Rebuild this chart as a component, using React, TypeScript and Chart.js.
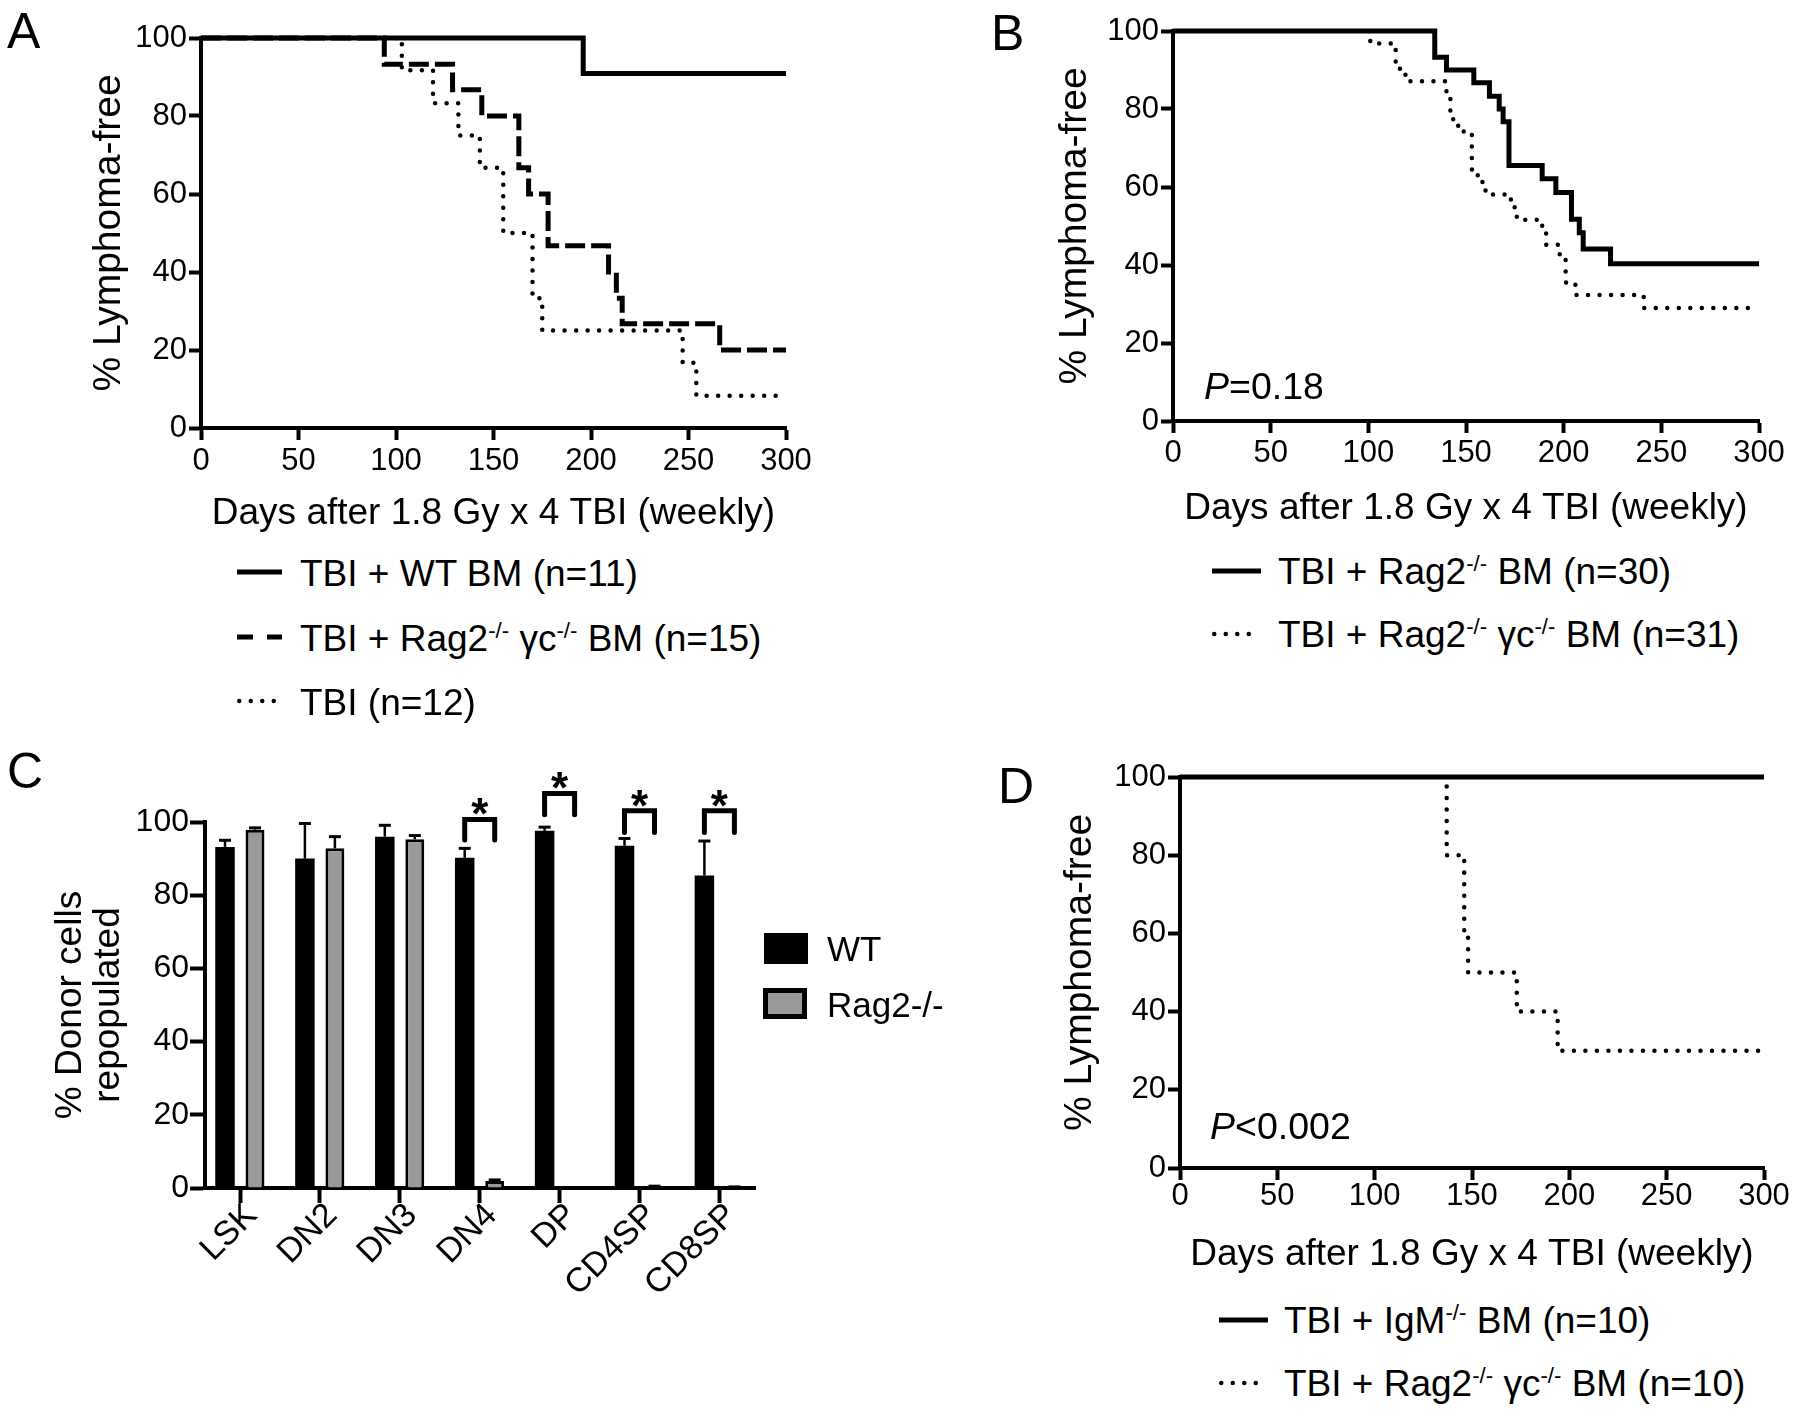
import React, { useEffect, useRef } from "react";
import { Chart, registerables } from "chart.js";

Chart.register(...registerables);

const FONT = "'Liberation Sans', Arial, Helvetica, sans-serif";

// ---------- shared axis data ----------
const X_TICKS = [0, 50, 100, 150, 200, 250, 300];
const Y_TICKS = [0, 20, 40, 60, 80, 100];
const X_TITLE = "Days after 1.8 Gy x 4 TBI (weekly)";
const Y_TITLE = "% Lymphoma-free";

// ---------- panel A ----------
const A_WT_DAYS = [0, 196, 300];
const A_WT_PCT = [100, 90.9, 90.9];
const A_RAGGC_DAYS = [0, 94, 129, 144, 163, 168, 178, 209, 213, 216, 266, 300];
const A_RAGGC_PCT = [100, 93.3, 86.7, 80, 66.7, 60, 46.7, 40, 33.3, 26.7, 20, 20];
const A_TBI_DAYS = [0, 103, 119, 132, 143, 155, 170, 175, 247, 254, 300];
const A_TBI_PCT = [100, 91.7, 83.3, 75, 66.7, 50, 33.3, 25, 16.7, 8.3, 8.3];

// ---------- panel B ----------
const B_RAG_DAYS = [0, 134, 140, 154, 162, 167, 169, 172, 189, 196, 204, 208, 210, 224, 300];
const B_RAG_PCT = [100, 93.3, 90, 86.7, 83.3, 80, 76.7, 65.5, 62.1, 58.6, 51.7, 48.3, 44.1, 40.3, 40.3];
const B_RAGGC_DAYS = [0, 101, 114, 119, 140, 142, 146, 153, 156, 160, 173, 176, 189, 191, 198, 201, 206, 241, 300];
const B_RAGGC_PCT = [100, 96.8, 90.3, 87.1, 83.9, 77.4, 74.2, 64.5, 61.3, 58.1, 54.8, 51.6, 48.4, 45.2, 41.9, 35.5, 32.3, 29.0, 29.0];

// ---------- panel C ----------
const C_CATS = ["LSK", "DN2", "DN3", "DN4", "DP", "CD4SP", "CD8SP"];
const C_WT = [93.2, 90, 96, 90.2, 97.6, 93.5, 85.4];
const C_WT_ERR = [1.8, 9.6, 3.1, 2.6, 1.0, 2.0, 9.4];
const C_RAG = [97.9, 92.8, 95.3, 1.9, 0, 0.4, 0.2];
const C_RAG_ERR = [0.5, 3.2, 1.0, 0.3, 0, 0.1, 0.1];
const C_Y_TICKS = [0, 20, 40, 60, 80, 100];
const C_SIG_CATS = [3, 4, 5, 6];
const C_SIG_TOP = [100.7, 107.8, 103.1, 103.1];
const C_SIG_LEG = [95.1, 102, 97.1, 97.1];

// ---------- panel D ----------
const D_IGM_DAYS = [0, 300];
const D_IGM_PCT = [100, 100];
const D_RAGGC_DAYS = [0, 137, 146, 148, 173, 194, 300];
const D_RAGGC_PCT = [100, 80, 60, 50, 40, 30, 30];

type Kind = "solid" | "dashed" | "dotted";
type Series = { days: number[]; pct: number[]; kind: Kind };
type Box = {
  cw: number; ch: number; L: number; R: number; T: number; B: number;
  tickMid: number; titleMid: number; yTitleX: number;
};

const TICK_FONT = 31;
const TITLE_FONT = 37;
const YTITLE_FONT = 39;
const TL = 12;

function lineStyle(kind: Kind) {
  if (kind === "dashed") return { borderWidth: 5, borderDash: [20, 6], borderCapStyle: "butt" };
  if (kind === "dotted") return { borderWidth: 4.5, borderDash: [0.01, 11.5], borderCapStyle: "round" };
  return { borderWidth: 5, borderDash: [], borderCapStyle: "butt" };
}

function axisCommon(tickLen: number) {
  return {
    grid: {
      display: true, drawOnChartArea: false, drawTicks: true, tickLength: tickLen,
      tickWidth: 4, tickColor: "#000", color: "#000", offset: false,
    },
    border: { display: true, color: "#000", width: 4 },
  };
}

function kmConfig(series: Series[], box: Box): any {
  const tickLH = TICK_FONT * 1.2;
  const titleLH = TITLE_FONT * 1.2;
  const yTitleLH = YTITLE_FONT * 1.2;
  return {
    type: "line",
    data: {
      datasets: series.map((s) => ({
        data: s.days.map((d, i) => ({ x: d, y: s.pct[i] })),
        stepped: "before",
        borderColor: "#000",
        borderJoinStyle: "miter",
        pointRadius: 0,
        fill: false,
        clip: false,
        ...lineStyle(s.kind),
      })),
    },
    options: {
      responsive: false,
      animation: false,
      events: [],
      layout: { padding: { left: 0, top: box.T, right: box.cw - box.R, bottom: 0 } },
      plugins: { legend: { display: false }, tooltip: { enabled: false } },
      scales: {
        x: {
          type: "linear", min: 0, max: 300,
          afterBuildTicks: (s: any) => { s.ticks = X_TICKS.map((v) => ({ value: v })); },
          afterFit: (s: any) => { s.height = box.ch - box.B; },
          ticks: {
            font: { family: FONT, size: TICK_FONT }, color: "#000", maxRotation: 0, autoSkip: false,
            padding: box.tickMid - box.B - TL - tickLH / 2,
          },
          ...axisCommon(TL),
          title: {
            display: true, text: X_TITLE, color: "#000",
            font: { family: FONT, size: TITLE_FONT },
            padding: { top: 0, bottom: box.ch - box.titleMid - titleLH / 2 },
          },
        },
        y: {
          type: "linear", min: 0, max: 100,
          afterBuildTicks: (s: any) => { s.ticks = Y_TICKS.map((v) => ({ value: v })); },
          afterFit: (s: any) => { s.width = box.L; },
          ticks: { font: { family: FONT, size: TICK_FONT }, color: "#000", padding: 2 },
          ...axisCommon(TL),
          title: {
            display: true, text: Y_TITLE, color: "#000",
            font: { family: FONT, size: YTITLE_FONT },
            padding: { top: box.yTitleX - yTitleLH / 2, bottom: 0 },
          },
        },
      },
    },
  };
}

// ---------- panel C config ----------
const C_BOX = { cw: 900, ch: 696, L: 205, R: 755, T: 102, B: 468, firstTick: 240, lastTick: 719.4 };
const C_LABEL_FONT = 34;
const C_LABEL_DX = 12;
const C_LABEL_DY = 22;

const errorBarsPlugin = {
  id: "errorBars",
  afterDatasetsDraw(chart: any) {
    const ctx = chart.ctx;
    const ys = chart.scales.y;
    const sets = [
      { vals: C_WT, errs: C_WT_ERR },
      { vals: C_RAG, errs: C_RAG_ERR },
    ];
    sets.forEach((set, di) => {
      const meta = chart.getDatasetMeta(di);
      meta.data.forEach((el: any, i: number) => {
        const e = set.errs[i];
        if (!e) return;
        const top = ys.getPixelForValue(set.vals[i] + e);
        const x = el.x;
        ctx.save();
        ctx.strokeStyle = "#000";
        ctx.lineWidth = 2.5;
        ctx.beginPath();
        ctx.moveTo(x, el.y);
        ctx.lineTo(x, top);
        ctx.stroke();
        ctx.lineWidth = 3;
        ctx.beginPath();
        ctx.moveTo(x - 6, top);
        ctx.lineTo(x + 6, top);
        ctx.stroke();
        ctx.restore();
      });
    });
  },
};

const bracketPlugin = {
  id: "brackets",
  afterDatasetsDraw(chart: any) {
    const ctx = chart.ctx;
    const ys = chart.scales.y;
    const m0 = chart.getDatasetMeta(0);
    const m1 = chart.getDatasetMeta(1);
    C_SIG_CATS.forEach((ci, k) => {
      const x1 = m0.data[ci].x;
      const x2 = m1.data[ci].x;
      const yt = ys.getPixelForValue(C_SIG_TOP[k]);
      const yl = ys.getPixelForValue(C_SIG_LEG[k]);
      ctx.save();
      ctx.strokeStyle = "#000";
      ctx.lineWidth = 5;
      ctx.lineCap = "round";
      ctx.lineJoin = "miter";
      ctx.beginPath();
      ctx.moveTo(x1, yl);
      ctx.lineTo(x1, yt);
      ctx.lineTo(x2, yt);
      ctx.lineTo(x2, yl);
      ctx.stroke();
      ctx.fillStyle = "#000";
      ctx.font = `bold 44px ${FONT}`;
      ctx.textAlign = "center";
      ctx.textBaseline = "alphabetic";
      ctx.fillText("*", (x1 + x2) / 2, yt + 10);
      ctx.restore();
    });
  },
};

const catLabelsPlugin = {
  id: "catLabels",
  afterDraw(chart: any) {
    const ctx = chart.ctx;
    const xs = chart.scales.x;
    const bottom = chart.chartArea.bottom;
    ctx.save();
    ctx.font = `${C_LABEL_FONT}px ${FONT}`;
    ctx.fillStyle = "#000";
    ctx.textAlign = "right";
    ctx.textBaseline = "middle";
    C_CATS.forEach((c, i) => {
      const x = xs.getPixelForValue(i);
      ctx.save();
      ctx.translate(x + C_LABEL_DX, bottom + C_LABEL_DY);
      ctx.rotate(-Math.PI / 4);
      ctx.fillText(c, 0, 0);
      ctx.restore();
    });
    ctx.restore();
  },
};

function barConfig(): any {
  const pitch = (C_BOX.lastTick - C_BOX.firstTick) / (C_CATS.length - 1);
  const xmin = -(C_BOX.firstTick - C_BOX.L) / pitch;
  const xmax = C_CATS.length - 1 + (C_BOX.R - C_BOX.lastTick) / pitch;
  const yTitleSize = 37;
  const yTitleLH = 1.03;
  return {
    type: "bar",
    data: {
      datasets: [
        {
          label: "WT",
          data: C_WT.map((v, i) => ({ x: i, y: v })),
          backgroundColor: "#000", borderColor: "#000", borderWidth: 0,
          categoryPercentage: 0.751, barPercentage: 0.65,
        },
        {
          label: "Rag2-/-",
          data: C_RAG.map((v, i) => ({ x: i, y: v })),
          backgroundColor: "#999999", borderColor: "#000", borderWidth: 3,
          categoryPercentage: 0.751, barPercentage: 0.63,
        },
      ],
    },
    options: {
      responsive: false,
      animation: false,
      events: [],
      layout: { padding: { left: 0, top: C_BOX.T, right: C_BOX.cw - C_BOX.R, bottom: 0 } },
      plugins: { legend: { display: false }, tooltip: { enabled: false } },
      scales: {
        x: {
          type: "linear", min: xmin, max: xmax, offset: false, bounds: "data",
          afterBuildTicks: (s: any) => { s.ticks = C_CATS.map((_, i) => ({ value: i })); },
          afterFit: (s: any) => { s.height = C_BOX.ch - C_BOX.B; },
          ticks: {
            display: false, autoSkip: false,
            callback: (v: any) => C_CATS[Math.round(v)] ?? "",
          },
          ...axisCommon(15),
        },
        y: {
          type: "linear", min: 0, max: 100,
          afterBuildTicks: (s: any) => { s.ticks = C_Y_TICKS.map((v) => ({ value: v })); },
          afterFit: (s: any) => { s.width = C_BOX.L; },
          ticks: { font: { family: FONT, size: 32 }, color: "#000", padding: 1 },
          ...axisCommon(15),
          title: {
            display: true, text: ["% Donor cells", "repopulated"], color: "#000",
            font: { family: FONT, size: yTitleSize, lineHeight: yTitleLH },
            padding: { top: 71 - (yTitleSize * yTitleLH) / 2, bottom: 0 },
          },
        },
      },
    },
    plugins: [errorBarsPlugin, bracketPlugin, catLabelsPlugin],
  };
}

// ---------- HTML helpers ----------
const Sup = ({ children }: { children: React.ReactNode }) => (
  <span style={{ fontSize: "0.6em", position: "relative", top: "-0.6em" }}>{children}</span>
);

function Txt(props: { x: number; mid: number; size: number; children: React.ReactNode; style?: React.CSSProperties }) {
  return (
    <div
      style={{
        position: "absolute", left: props.x, top: props.mid - 0.4885 * props.size,
        fontSize: props.size, lineHeight: 1, whiteSpace: "nowrap", ...props.style,
      }}
    >
      {props.children}
    </div>
  );
}

function Sym(props: { kind: Kind; x1: number; x2: number; y: number }) {
  const w = props.x2 - props.x1;
  const sw = props.kind === "dotted" ? 4.5 : 5;
  const dash = props.kind === "dashed" ? "16 14" : props.kind === "dotted" ? "0 11.5" : undefined;
  const cap = props.kind === "dotted" ? "round" : "butt";
  const inset = props.kind === "dotted" ? 2.25 : 0;
  return (
    <svg style={{ position: "absolute", left: props.x1, top: props.y - 6, overflow: "visible" }} width={w} height={12}>
      <line x1={inset} y1={6} x2={w - inset} y2={6} stroke="#000" strokeWidth={sw}
        strokeDasharray={dash} strokeLinecap={cap as any} />
    </svg>
  );
}

const LEG = 37;
const LETTER = 50;

function Letter(props: { x: number; capTop: number; children: React.ReactNode }) {
  return (
    <div style={{ position: "absolute", left: props.x, top: props.capTop - 0.13 * LETTER, fontSize: LETTER, lineHeight: 1 }}>
      {props.children}
    </div>
  );
}

export default function App() {
  const aRef = useRef<HTMLCanvasElement>(null);
  const bRef = useRef<HTMLCanvasElement>(null);
  const cRef = useRef<HTMLCanvasElement>(null);
  const dRef = useRef<HTMLCanvasElement>(null);

  useEffect(() => {
    const charts: Chart[] = [];
    charts.push(new Chart(aRef.current!, kmConfig(
      [
        { days: A_WT_DAYS, pct: A_WT_PCT, kind: "solid" },
        { days: A_RAGGC_DAYS, pct: A_RAGGC_PCT, kind: "dashed" },
        { days: A_TBI_DAYS, pct: A_TBI_PCT, kind: "dotted" },
      ],
      { cw: 900, ch: 545, L: 201, R: 786, T: 38, B: 428, tickMid: 461, titleMid: 514, yTitleX: 109 },
    )));
    charts.push(new Chart(bRef.current!, kmConfig(
      [
        { days: B_RAG_DAYS, pct: B_RAG_PCT, kind: "solid" },
        { days: B_RAGGC_DAYS, pct: B_RAGGC_PCT, kind: "dotted" },
      ],
      { cw: 900, ch: 545, L: 273, R: 859, T: 31, B: 421, tickMid: 453, titleMid: 509, yTitleX: 175 },
    )));
    charts.push(new Chart(cRef.current!, barConfig()));
    charts.push(new Chart(dRef.current!, kmConfig(
      [
        { days: D_IGM_DAYS, pct: D_IGM_PCT, kind: "solid" },
        { days: D_RAGGC_DAYS, pct: D_RAGGC_PCT, kind: "dotted" },
      ],
      { cw: 900, ch: 580, L: 280, R: 864, T: 57, B: 448, tickMid: 476, titleMid: 535, yTitleX: 180 },
    )));
    return () => charts.forEach((c) => c.destroy());
  }, []);

  const canvasStyle = (l: number, t: number, w: number, h: number): React.CSSProperties => ({
    position: "absolute", left: l, top: t, width: w, height: h,
  });

  return (
    <div style={{ position: "absolute", left: 0, top: 0, width: 1800, height: 1416, background: "#fff", color: "#000", fontFamily: FONT, overflow: "hidden" }}>
      <canvas ref={aRef} width={900} height={545} style={canvasStyle(0, 0, 900, 545)} />
      <canvas ref={bRef} width={900} height={545} style={canvasStyle(900, 0, 900, 545)} />
      <canvas ref={cRef} width={900} height={696} style={canvasStyle(0, 720, 900, 696)} />
      <canvas ref={dRef} width={900} height={580} style={canvasStyle(900, 720, 900, 580)} />

      {/* panel letters */}
      <Letter x={7} capTop={12}>A</Letter>
      <Letter x={991} capTop={14}>B</Letter>
      <Letter x={7} capTop={752}>C</Letter>
      <Letter x={998} capTop={767}>D</Letter>

      {/* legend A */}
      <Sym kind="solid" x1={237} x2={282} y={572} />
      <Txt x={300} mid={573} size={LEG}>TBI + WT BM (n=11)</Txt>
      <Sym kind="dashed" x1={237} x2={282} y={637} />
      <Txt x={300} mid={638} size={LEG}>TBI + Rag2<Sup>-/-</Sup> γc<Sup>-/-</Sup> BM (n=15)</Txt>
      <Sym kind="dotted" x1={237} x2={277} y={701} />
      <Txt x={300} mid={702} size={LEG}>TBI (n=12)</Txt>

      {/* legend B */}
      <Sym kind="solid" x1={1212} x2={1261} y={571} />
      <Txt x={1278} mid={571} size={LEG}>TBI + Rag2<Sup>-/-</Sup> BM (n=30)</Txt>
      <Sym kind="dotted" x1={1212} x2={1252} y={634} />
      <Txt x={1278} mid={634} size={LEG}>TBI + Rag2<Sup>-/-</Sup> γc<Sup>-/-</Sup> BM (n=31)</Txt>
      <Txt x={1204} mid={386} size={37.5}><i>P</i>=0.18</Txt>

      {/* legend C */}
      <div style={{ position: "absolute", left: 764, top: 933, width: 44, height: 31, background: "#000" }} />
      <div style={{ position: "absolute", left: 763, top: 988, width: 44, height: 31, background: "#999", border: "5px solid #000", boxSizing: "border-box" }} />
      <Txt x={827} mid={948} size={35}>WT</Txt>
      <Txt x={827} mid={1004} size={35}>Rag2-/-</Txt>

      {/* legend D */}
      <Sym kind="solid" x1={1219} x2={1268} y={1320} />
      <Txt x={1284} mid={1320} size={LEG}>TBI + IgM<Sup>-/-</Sup> BM (n=10)</Txt>
      <Sym kind="dotted" x1={1219} x2={1259} y={1383} />
      <Txt x={1284} mid={1383} size={LEG}>TBI + Rag2<Sup>-/-</Sup> γc<Sup>-/-</Sup> BM (n=10)</Txt>
      <Txt x={1210} mid={1126} size={37.5}><i>P</i>&lt;0.002</Txt>
    </div>
  );
}
